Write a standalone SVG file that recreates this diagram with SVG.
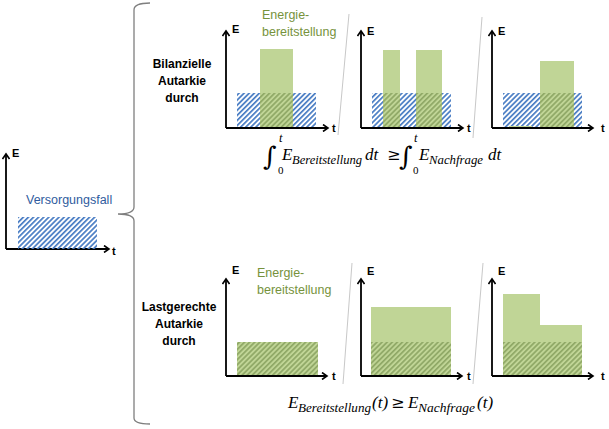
<svg xmlns="http://www.w3.org/2000/svg" width="609" height="429" viewBox="0 0 609 429">
<defs>
<pattern id="hatchB" patternUnits="userSpaceOnUse" width="3.6" height="3.6" patternTransform="rotate(45)">
<rect x="0" y="0" width="1.7" height="3.6" fill="#4A7DC4"/>
</pattern>
<pattern id="hatchG" patternUnits="userSpaceOnUse" width="3.6" height="3.6" patternTransform="rotate(45)">
<rect x="0" y="0" width="1.7" height="3.6" fill="#8FA866"/>
</pattern>
<marker id="arr" markerWidth="8" markerHeight="8" refX="6" refY="4" orient="auto" markerUnits="userSpaceOnUse">
<path d="M1,0.5 L6,4 L1,7.5" fill="none" stroke="#000" stroke-width="1.6"/>
</marker>
</defs>
<style>
.ax{fill:none;stroke:#000;stroke-width:1.8;marker-end:url(#arr)}
.lbl{font-family:"Liberation Sans",Arial,sans-serif;font-weight:bold;font-size:11px;fill:#000}
.head{font-family:"Liberation Sans",Arial,sans-serif;font-weight:bold;font-size:12px;fill:#000;text-anchor:middle}
.gtxt{font-family:"Liberation Sans",Arial,sans-serif;font-size:12.5px;fill:#76923C}
.btxt{font-family:"Liberation Sans",Arial,sans-serif;font-size:12.5px;fill:#2F5C9E}
.grn{fill:#C0D596}
.hb{fill:url(#hatchB)}
.hg{fill:url(#hatchG)}
.div{stroke:#C8C8C8;stroke-width:1;fill:none}
.m{font-family:"Liberation Serif","Times New Roman",serif;font-style:italic;font-size:17px;fill:#000}
.ms{font-family:"Liberation Serif","Times New Roman",serif;font-style:italic;font-size:12.5px;fill:#000}
.mn{font-family:"Liberation Serif","Times New Roman",serif;font-size:11px;fill:#000}
.int{font-family:"DejaVu Serif",serif;font-size:26px;fill:#000}
.op{font-family:"DejaVu Serif",serif;font-size:16px;fill:#000}
</style>

<g id="versorgungsfall">
<path class="ax" d="M6,249 V154"/>
<path class="ax" d="M6,249 H109"/>
<rect class="hb" x="18" y="217" width="79" height="32"/>
<text class="lbl" x="12" y="157">E</text>
<text class="lbl" x="112" y="255">t</text>
<text class="btxt" x="26" y="204">Versorgungsfall</text>
</g>

<g id="brace">
<path d="M150,3 Q134,3 134,10 V207 Q134,214 118,214 Q134,214 134,221 V418 Q134,424 150,424" fill="none" stroke="#7F7F7F" stroke-width="1.3"/>
</g>

<g id="bilanziell-label">
<text class="head" x="182" y="68">Bilanzielle</text>
<text class="head" x="182" y="85">Autarkie</text>
<text class="head" x="182" y="102">durch</text>
</g>

<g id="top1">
<rect class="hb" x="237" y="93" width="79" height="35"/>
<rect class="grn" x="260" y="49" width="33" height="79"/>
<rect class="hg" x="260" y="93" width="33" height="35"/>
<path class="ax" d="M226,128 V31"/>
<path class="ax" d="M226,128 H328"/>
<text class="lbl" x="232" y="33">E</text>
<text class="lbl" x="332" y="132">t</text>
<text class="gtxt" x="262" y="19">Energie-</text>
<text class="gtxt" x="262" y="36">bereitstellung</text>
</g>

<g id="top2">
<rect class="hb" x="372" y="93" width="79" height="35"/>
<rect class="grn" x="383" y="50" width="17" height="78"/>
<rect class="grn" x="416" y="50" width="26" height="78"/>
<rect class="hg" x="383" y="93" width="17" height="35"/>
<rect class="hg" x="416" y="93" width="26" height="35"/>
<path class="ax" d="M361,128 V31"/>
<path class="ax" d="M361,128 H463"/>
<text class="lbl" x="367" y="35">E</text>
<text class="lbl" x="467" y="132">t</text>
</g>

<g id="top3">
<rect class="hb" x="503" y="93" width="79" height="35"/>
<rect class="grn" x="509" y="126" width="23" height="2"/>
<rect class="grn" x="540" y="61" width="34" height="67"/>
<rect class="hg" x="540" y="93" width="34" height="35"/>
<path class="ax" d="M492,128 V31"/>
<path class="ax" d="M492,128 H593"/>
<text class="lbl" x="498" y="35">E</text>
<text class="lbl" x="601" y="132">t</text>
</g>

<g id="lastgerecht-label">
<text class="head" x="179" y="311">Lastgerechte</text>
<text class="head" x="179" y="328">Autarkie</text>
<text class="head" x="179" y="345">durch</text>
</g>

<g id="bottom1">
<rect class="grn" x="237" y="342" width="81" height="34"/>
<rect class="hg" x="237" y="342" width="81" height="34"/>
<path class="ax" d="M226,376 V279"/>
<path class="ax" d="M226,376 H327"/>
<text class="lbl" x="232" y="274">E</text>
<text class="lbl" x="332" y="380">t</text>
<text class="gtxt" x="257" y="277">Energie-</text>
<text class="gtxt" x="257" y="294">bereitstellung</text>
</g>

<g id="bottom2">
<rect class="grn" x="371" y="307" width="80" height="69"/>
<rect class="hg" x="371" y="342" width="80" height="34"/>
<path class="ax" d="M361,376 V279"/>
<path class="ax" d="M361,376 H462"/>
<text class="lbl" x="367" y="275">E</text>
<text class="lbl" x="467" y="380">t</text>
</g>

<g id="bottom3">
<path class="grn" d="M503,294 H540 V325 H582 V376 H503 Z"/>
<rect class="hg" x="503" y="342" width="79" height="34"/>
<path class="ax" d="M492,376 V279"/>
<path class="ax" d="M492,376 H593"/>
<text class="lbl" x="498" y="275">E</text>
<text class="lbl" x="601" y="380">t</text>
</g>

<g id="dividers">
<path class="div" d="M349,14 L338,135"/>
<path class="div" d="M482,17 L473,138"/>
<path class="div" d="M352,263 L343,384"/>
<path class="div" d="M483,263 L473,384"/>
</g>

<g id="formula1">
<text class="int" x="263" y="165">∫</text>
<text class="ms" x="279" y="142">t</text>
<text class="mn" x="278" y="174">0</text>
<text class="m" x="282" y="160">E</text>
<text class="ms" x="292" y="164" textLength="70" lengthAdjust="spacingAndGlyphs">Bereitstellung</text>
<text class="m" x="365" y="160">dt</text>
<text class="op" x="387" y="160">≥</text>
<text class="int" x="399" y="165">∫</text>
<text class="ms" x="414" y="142">t</text>
<text class="mn" x="413" y="174">0</text>
<text class="m" x="419" y="160">E</text>
<text class="ms" x="429" y="164" textLength="54" lengthAdjust="spacingAndGlyphs">Nachfrage</text>
<text class="m" x="488" y="160">dt</text>
</g>

<g id="formula2">
<text class="m" x="288" y="408">E</text>
<text class="ms" x="298" y="412" textLength="73" lengthAdjust="spacingAndGlyphs">Bereitstellung</text>
<text class="m" x="372" y="408">(t)</text>
<text class="op" x="391" y="408">≥</text>
<text class="m" x="408" y="408">E</text>
<text class="ms" x="418" y="412" textLength="57" lengthAdjust="spacingAndGlyphs">Nachfrage</text>
<text class="m" x="477" y="408">(t)</text>
</g>
</svg>
